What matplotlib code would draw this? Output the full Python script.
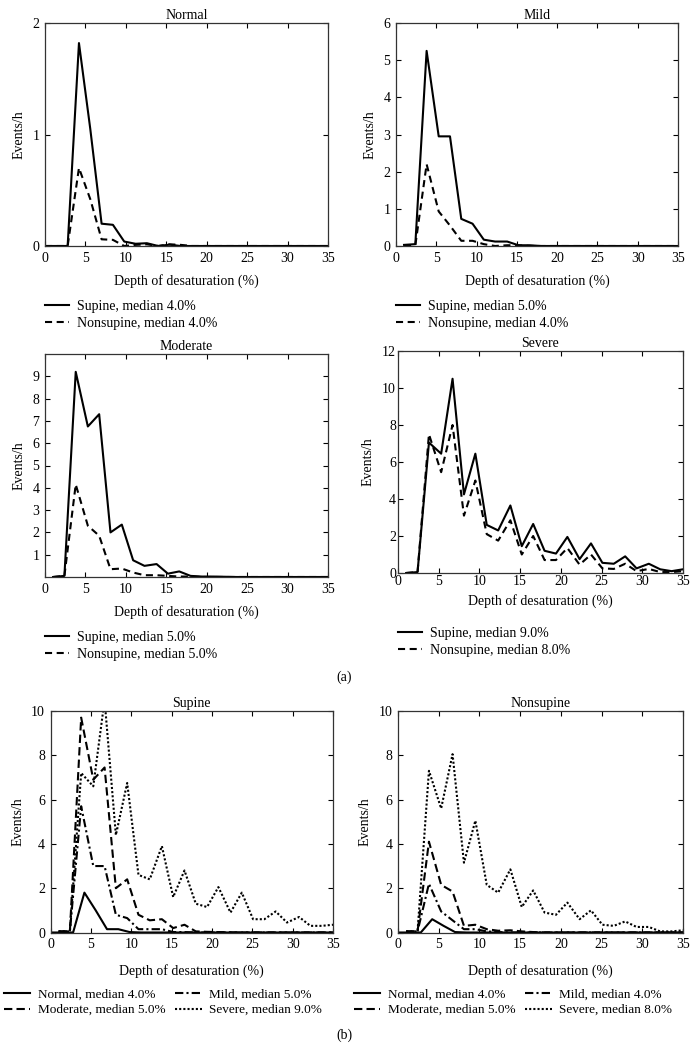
import matplotlib
matplotlib.use("Agg")
import matplotlib.pyplot as plt
import numpy as np

plt.rcParams['font.family'] = ['Liberation Serif', 'DejaVu Serif']
plt.rcParams['font.size'] = 10

# depth grids (% desaturation)
depth = [1.0, 2.4, 3.8, 5.3, 6.7, 8.1, 9.5, 10.9, 12.3, 13.8, 15.2, 16.6, 18.0,
         19.4, 20.8, 22.3, 23.7, 25.1, 26.5, 27.9, 29.3, 30.8, 32.2, 33.6, 35.0]
depth_normal = [0.0, 1.4, 2.8, 4.2, 5.6, 7.0, 8.4, 9.8, 11.2, 12.6, 14.0, 15.4, 16.8,
                18.2, 19.6, 21.0, 22.4, 23.8, 25.2, 26.6, 28.0, 29.4, 30.8, 32.2, 33.6, 35.0]

# (a) events/h by group, supine vs nonsupine
normal_sup = [0, 0, 0, 1.82, 1.05, 0.2, 0.19, 0.04, 0.02, 0.025, 0.0, 0.012, 0.0,
              0, 0, 0, 0, 0, 0, 0, 0, 0, 0, 0, 0, 0]
normal_non = [0, 0, 0, 0.7, 0.42, 0.06, 0.055, 0.0, 0.01, 0.015, 0.0, 0.015, 0.01,
              0, 0, 0, 0, 0, 0, 0, 0, 0, 0, 0, 0, 0]
mild_sup = [0.03, 0.05, 5.25, 2.95, 2.95, 0.73, 0.6, 0.17, 0.12, 0.12, 0.02, 0.02, 0,
            0, 0, 0, 0, 0, 0, 0, 0, 0, 0, 0, 0]
mild_non = [0.0, 0.02, 2.2, 0.93, 0.55, 0.14, 0.14, 0.05, 0.0, 0.02, 0.02, 0, 0,
            0, 0, 0, 0, 0, 0, 0, 0, 0, 0, 0, 0]
moderate_sup = [0.0, 0.05, 9.2, 6.75, 7.3, 2.0, 2.35, 0.75, 0.5, 0.58, 0.15, 0.25, 0.05,
                0.02, 0.02, 0.01, 0, 0, 0, 0, 0, 0, 0, 0, 0]
moderate_non = [0.0, 0.05, 4.15, 2.3, 1.85, 0.35, 0.38, 0.2, 0.08, 0.08, 0.05, 0.02, 0.02,
                0, 0, 0, 0, 0, 0, 0, 0, 0, 0, 0, 0]
severe_sup = [0.0, 0.05, 7.05, 6.45, 10.5, 4.25, 6.45, 2.6, 2.3, 3.65, 1.45, 2.65, 1.2,
              1.05, 1.95, 0.75, 1.6, 0.55, 0.5, 0.9, 0.25, 0.5, 0.2, 0.1, 0.2]
severe_non = [0.0, 0.05, 7.5, 5.45, 8.0, 3.1, 5.0, 2.1, 1.75, 2.85, 1.0, 2.0, 0.7,
              0.7, 1.35, 0.45, 1.0, 0.25, 0.22, 0.5, 0.1, 0.22, 0.05, 0.05, 0.1]

# (b) events/h by position, all groups
b_normal_sup = [0, 0, 0, 1.8, 1.0, 0.15, 0.15, 0.02, 0, 0, 0, 0, 0,
                0, 0, 0, 0, 0, 0, 0, 0, 0, 0, 0, 0, 0]
b_mild_sup = [0.05, 0.05, 5.7, 3.0, 3.0, 0.8, 0.65, 0.15, 0.15, 0.15, 0.02, 0.02, 0,
              0, 0, 0, 0, 0, 0, 0, 0, 0, 0, 0, 0]
b_moderate_sup = [0.05, 0.05, 9.7, 6.9, 7.45, 2.0, 2.4, 0.8, 0.55, 0.6, 0.2, 0.35, 0.05,
                  0.03, 0.02, 0.01, 0, 0, 0, 0, 0, 0, 0, 0, 0]
b_severe_sup = [0.05, 0.05, 7.2, 6.6, 10.5, 4.4, 6.75, 2.6, 2.4, 3.9, 1.6, 2.8, 1.3,
                1.15, 2.05, 0.9, 1.8, 0.6, 0.6, 0.95, 0.45, 0.7, 0.3, 0.3, 0.35]
b_normal_non = [0, 0, 0, 0.6, 0.3, 0.02, 0, 0, 0, 0, 0, 0, 0,
                0, 0, 0, 0, 0, 0, 0, 0, 0, 0, 0, 0, 0]
b_mild_non = [0.05, 0.05, 2.2, 0.95, 0.55, 0.15, 0.15, 0.05, 0.02, 0, 0, 0, 0,
              0, 0, 0, 0, 0, 0, 0, 0, 0, 0, 0, 0]
b_moderate_non = [0.05, 0.05, 4.1, 2.15, 1.85, 0.3, 0.35, 0.15, 0.08, 0.1, 0.05, 0.02, 0,
                  0, 0, 0, 0, 0, 0, 0, 0, 0, 0, 0, 0]
b_severe_non = [0.05, 0.05, 7.3, 5.6, 8.05, 3.15, 5.05, 2.15, 1.8, 2.85, 1.15, 1.9, 0.9,
                0.8, 1.35, 0.6, 1.0, 0.35, 0.3, 0.5, 0.25, 0.25, 0.05, 0.05, 0.1]

W, H = 695, 1048
fig = plt.figure(figsize=(W / 100, H / 100), dpi=100)

DASH = (0, (3.4, 2.2))
LW = 1.5


def make_ax(left, top, right, bottom, tpad=4, lpad=7):
    ax = fig.add_axes([left / W, 1 - bottom / H, (right - left) / W, (bottom - top) / H])
    ax.set_xlim(0, 35)
    ax.set_xticks(range(0, 36, 5))
    ax.tick_params(direction='in', top=True, right=True, length=3.5, width=0.8, pad=tpad)
    for s in ax.spines.values():
        s.set_color('#333333')
        s.set_linewidth(0.9)
    ax.set_xlabel('Depth of desaturation (%)', labelpad=lpad)
    ax.set_ylabel('Events/h', labelpad=5)
    return ax


def legend_at(handles, labels, x, y, ncol=1, hl=1.6, fs=10, cs=1.0):
    fig.legend(handles, labels, loc='upper left', bbox_to_anchor=(x / W, 1 - y / H),
               frameon=False, borderpad=0, borderaxespad=0, handlelength=hl,
               handletextpad=0.6, labelspacing=0.28, columnspacing=cs, ncol=ncol,
               fontsize=fs)


panels_a = [
    ('Normal', depth_normal, normal_sup, normal_non, (45, 23, 328, 246), 2, [0, 1, 2], '4.0%', '4.0%', 4, 7),
    ('Mild', depth, mild_sup, mild_non, (396, 23, 678, 246), 6, range(0, 7), '5.0%', '4.0%', 4, 7),
    ('Moderate', depth, moderate_sup, moderate_non, (45, 354, 328, 577), 10, range(1, 10), '5.0%', '5.0%', 4, 7),
    ('Severe', depth, severe_sup, severe_non, (398, 351, 683, 573), 12, range(0, 13, 2), '9.0%', '8.0%', 1.5, 4),
]

for title, xs, sup, non, box, ytop, yt, m1, m2, tpad, lpad in panels_a:
    ax = make_ax(*box, tpad=tpad, lpad=lpad)
    l1, = ax.plot(xs, sup, color='black', lw=LW)
    l2, = ax.plot(xs, non, color='black', lw=LW, linestyle=DASH)
    ax.set_ylim(0, ytop)
    ax.set_yticks(list(yt))
    ax.set_title(title, pad=3, fontsize=10)
    legend_at([l1, l2], ['Supine, median ' + m1, 'Nonsupine, median ' + m2],
              box[0], box[3] + 54, hl=1.7)

fig.text(344 / W, 1 - 677 / H, '(a)', ha='center', va='center')

panels_b = [
    ('Supine', [b_normal_sup, b_mild_sup, b_moderate_sup, b_severe_sup], (50.5, 711, 333, 932.5),
     ['4.0%', '5.0%', '5.0%', '9.0%'], 4),
    ('Nonsupine', [b_normal_non, b_mild_non, b_moderate_non, b_severe_non], (398, 711, 683, 932.5),
     ['4.0%', '4.0%', '5.0%', '8.0%'], 354),
]
styles = ['-', (0, (4, 1.5, 1, 1.5)), (0, (4, 2)), (0, (1, 1))]
names = ['Normal', 'Mild', 'Moderate', 'Severe']

for title, series, box, meds, lx in panels_b:
    ax = make_ax(*box, tpad=4, lpad=9)
    lines = []
    for i, ys in enumerate(series):
        xs = depth_normal if i == 0 else depth
        ln, = ax.plot(xs, ys, color='black', lw=LW, linestyle=styles[i])
        lines.append(ln)
    ax.set_ylim(0, 10)
    ax.set_yticks(range(0, 11, 2))
    ax.set_title(title, pad=3, fontsize=10)
    labels = [n + ', median ' + m for n, m in zip(names, meds)]
    # column order: Normal, Moderate | Mild, Severe
    order = [0, 2, 1, 3]
    legend_at([lines[k] for k in order], [labels[k] for k in order], lx, 988,
              ncol=2, hl=2.0, fs=9.5, cs=0.7)

fig.text(344 / W, 1 - 1035 / H, '(b)', ha='center', va='center')

fig.savefig('out.png', dpi=100)
